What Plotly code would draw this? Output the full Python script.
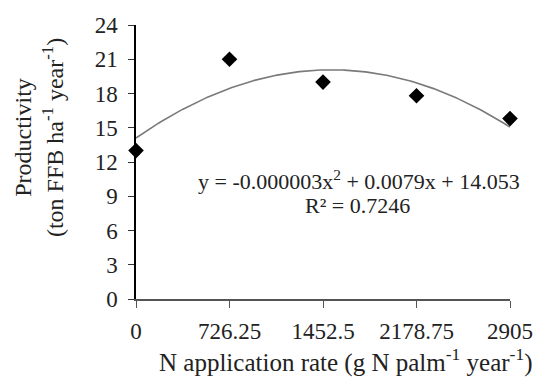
import numpy as np
import plotly.graph_objects as go

n_rate = [0, 726.25, 1452.5, 2178.75, 2905]
n_labels = ["0", "726.25", "1452.5", "2178.75", "2905"]
productivity = [13.0, 21.0, 19.0, 17.8, 15.8]
y_ticks = [0, 3, 6, 9, 12, 15, 18, 21, 24]

coef = np.polyfit(n_rate, productivity, 2)
xs = np.linspace(0, 2905, 200)
ys = np.polyval(coef, xs)

FONT = "Liberation Serif, Times New Roman, serif"

fig = go.Figure()
fig.add_trace(go.Scatter(x=xs, y=ys, mode="lines",
                         line=dict(color="#7a7a7a", width=1.6),
                         hoverinfo="skip", showlegend=False))
fig.add_trace(go.Scatter(x=n_rate, y=productivity, mode="markers",
                         marker=dict(symbol="diamond", size=12, color="black"),
                         showlegend=False, cliponaxis=False))

fig.update_layout(
    width=550, height=379,
    margin=dict(l=136, r=40, t=25, b=80),
    plot_bgcolor="white", paper_bgcolor="white",
    font=dict(family=FONT, size=20, color="#222"),
    showlegend=False,
    xaxis=dict(range=[0, 2905], tickvals=n_rate, ticktext=n_labels,
               showgrid=False, zeroline=False, showline=True,
               linecolor="#555", linewidth=1.5,
               ticks="outside", ticklen=7, tickcolor="#555", tickwidth=1.2,
               ticklabelstandoff=4,
               tickfont=dict(family=FONT, size=23, color="#222")),
    yaxis=dict(range=[0, 24], tickvals=y_ticks,
               showgrid=False, zeroline=False, showline=True,
               linecolor="black", linewidth=1.5,
               ticks="outside", ticklen=6, tickcolor="#333", tickwidth=1.2,
               ticklabelstandoff=6,
               tickfont=dict(family=FONT, size=23, color="#222")),
    annotations=[
        dict(text="Productivity<br>(ton FFB ha<sup>-1</sup> year<sup>-1</sup>)",
             xref="paper", yref="paper", x=-0.26, y=0.59, xanchor="center", yanchor="middle",
             textangle=-90, showarrow=False, font=dict(family=FONT, size=24, color="#222")),
        dict(text="N application rate (g N palm<sup>-1</sup> year<sup>-1</sup>)",
             xref="paper", yref="paper", x=0.559, y=-0.226, xanchor="center", yanchor="middle",
             showarrow=False, font=dict(family=FONT, size=25, color="#222")),
        dict(text="y = -0.000003x<sup>2</sup> + 0.0079x + 14.053",
             xref="paper", yref="paper", x=0.596, y=0.434, xanchor="center", yanchor="middle",
             showarrow=False, font=dict(family=FONT, size=22, color="#222")),
        dict(text="R² = 0.7246",
             xref="paper", yref="paper", x=0.593, y=0.343, xanchor="center", yanchor="middle",
             showarrow=False, font=dict(family=FONT, size=22, color="#222")),
    ],
)

fig.write_html("out.html", config={"displayModeBar": False},
               post_script="document.body.style.margin='0';")
